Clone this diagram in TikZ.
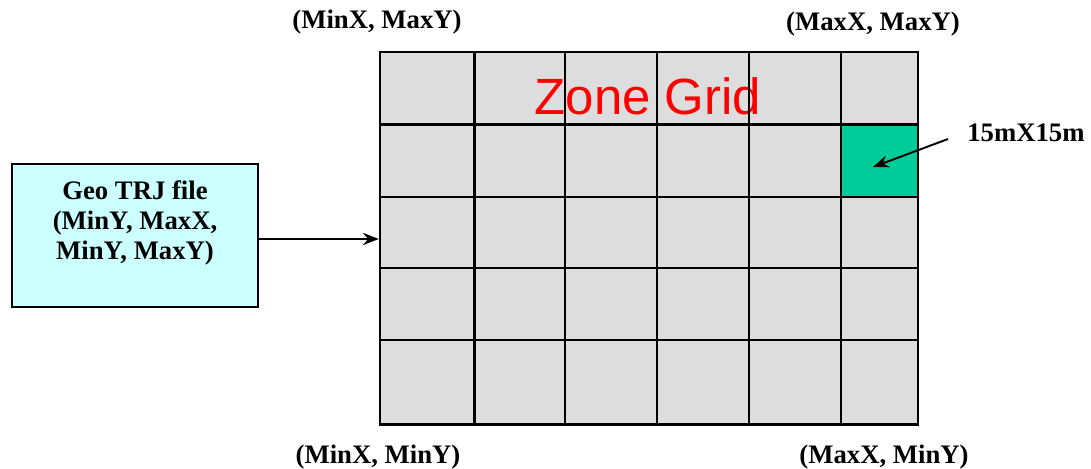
\documentclass[tikz,border=0pt]{standalone}
\usepackage{fontspec}
\setmainfont{Liberation Serif}
\newfontfamily\arialfont{Liberation Sans}
\usetikzlibrary{arrows.meta}
\definecolor{cellgray}{RGB}{221,221,221}
\definecolor{cellgreen}{RGB}{0,204,153}
\definecolor{boxcyan}{RGB}{204,255,255}
\tikzset{
  lbl/.style={font=\fontsize{15.2}{17}\selectfont\bfseries, inner sep=0pt},
  gridline/.style={line width=1.4pt, black},
  conn/.style={line width=1.1pt, -{Stealth[length=9pt,width=7pt]}},
}
\begin{document}
\begin{tikzpicture}[x=0.02cm, y=-0.02cm]
\useasboundingbox (0,0) rectangle (1091,468);
% grid
\fill[cellgray] (380,52) rectangle (918,424.5);
\fill[cellgreen] (841,124.5) rectangle (918,197);
\node[font=\arialfont\fontsize{29}{30}\selectfont, text=red, inner sep=0pt] (title) at (648,96) {Zone Grid};
\foreach \x in {474.5,565,657,749,841}
  \draw[gridline] (\x,52) -- (\x,424.5);
\foreach \y in {124.5,197,268,340}
  \draw[gridline] (380,\y) -- (918,\y);
\node[draw, line width=1.4pt, minimum width=538*0.02cm, minimum height=372.5*0.02cm, inner sep=0pt] (grid) at (649,238.25) {};
\coordinate (cell) at (873,167);
% corner labels
\node[lbl] (tl) at (377,22) {(MinX, MaxY)};
\node[lbl] (tr) at (873,24) {(MaxX, MaxY)};
\node[lbl] (bl) at (378,457) {(MinX, MinY)};
\node[lbl] (br) at (884,457) {(MaxX, MinY)};
% size label
\node[lbl, anchor=west] (size) at (967,133) {15mX15m};
\draw[conn] (size.west) ++(-19,6) coordinate (s0) -- (cell);
% geo box
\node[draw, line width=1.3pt, fill=boxcyan, minimum width=246*0.02cm, minimum height=143*0.02cm, inner sep=0pt] (geo) at (135,235.5) {};
\node[lbl, align=center] (geotext) at (135,223) {Geo TRJ file\\(MinY, MaxX,\\MinY, MaxY)};
\draw[conn] (geo.east |- 0,239) -- (grid.west |- 0,239);
\end{tikzpicture}
\end{document}
